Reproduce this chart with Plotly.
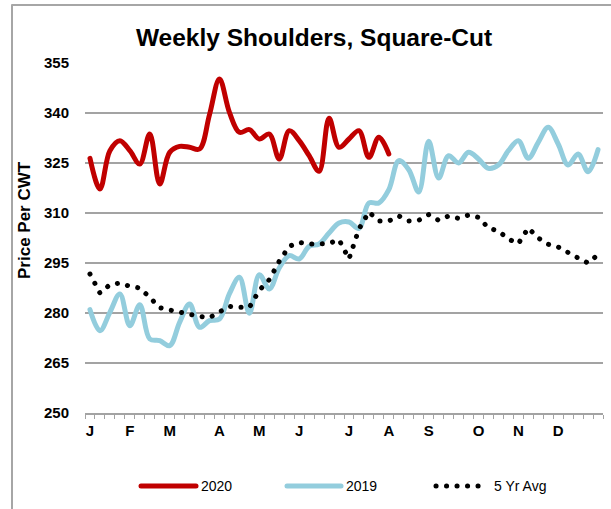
import plotly.graph_objects as go

# ---------------- data ----------------
weeks = list(range(52))
month_weeks = [0, 4, 8, 13, 17, 21, 26, 30, 34, 39, 43, 47]
month_labels = ["J", "F", "M", "A", "M", "J", "J", "A", "S", "O", "N", "D"]

y2020 = [326.4, 317.2, 328.7, 331.7, 328.7, 324.7, 333.7, 318.7, 328.2, 330.0,
         329.7, 329.2, 339.5, 350.2, 340.2, 334.2, 335.0, 332.2, 333.7, 326.2,
         334.7, 331.7, 327.2, 322.5, 338.4, 329.7, 332.2, 334.7, 326.7, 332.7,
         327.7]

y2019 = [281.0, 274.7, 280.2, 285.7, 276.2, 282.5, 272.2, 271.7, 270.2, 277.2,
         282.7, 275.7, 277.7, 278.2, 285.8, 290.7, 279.9, 291.5, 287.2, 293.5,
         297.2, 296.2, 300.0, 300.7, 304.0, 307.0, 307.3, 305.4, 313.0, 313.0,
         317.0, 325.7, 323.0, 316.3, 331.5, 320.5, 327.2, 325.0, 328.2, 326.2,
         323.4, 324.4, 328.7, 331.7, 326.4, 331.2, 335.7, 330.7, 324.4, 327.7,
         322.4, 329.0]

avg5 = [291.7, 286.0, 288.5, 289.0, 288.0, 287.5, 284.7, 281.6, 280.9, 280.2,
        279.4, 279.0, 278.6, 280.3, 282.0, 281.7, 281.7, 286.8, 290.0, 295.5,
        300.0, 301.2, 300.7, 300.7, 300.9, 302.0, 296.2, 305.2, 310.3, 307.6,
        307.6, 309.1, 307.6, 307.8, 309.5, 307.8, 309.1, 308.4, 309.4, 308.7,
        305.5, 304.6, 302.2, 300.8, 305.5, 302.5, 300.6, 299.8, 298.0, 296.5,
        295.0, 297.5]

series_names = ["2020", "2019", "5 Yr Avg"]
RED = "#C00000"
BLUE = "#93CDDD"
GRID = "#a3a3a3"

# ---------------- layout geometry (pixels) ----------------
W, H = 611, 509
L, R, T, B = 85, 8, 63, 96
PW, PH = W - L - R, H - T - B


def px_x(px):
    return (px - L) / PW


def px_y(py):
    return (H - B - py) / PH


fig = go.Figure()
fig.add_trace(go.Scatter(x=weeks[:len(y2020)], y=y2020, mode="lines", name=series_names[0],
                         line=dict(color=RED, width=5, shape="spline", smoothing=1.0),
                         showlegend=False))
fig.add_trace(go.Scatter(x=weeks, y=y2019, mode="lines", name=series_names[1],
                         line=dict(color=BLUE, width=5, shape="spline", smoothing=1.0),
                         showlegend=False))
fig.add_trace(go.Scatter(x=weeks, y=avg5, mode="lines", name=series_names[2],
                         line=dict(color="black", width=5, dash="0.1px,10.4px"),
                         showlegend=False))

fig.update_layout(
    width=W, height=H,
    margin=dict(l=L, r=R, t=T, b=B),
    paper_bgcolor="white", plot_bgcolor="white",
    font=dict(family="Liberation Sans, Arial, sans-serif", color="black"),
    title=dict(text="<b>Weekly Shoulders, Square-Cut</b>", x=314 / W, xanchor="center",
               y=1 - 37 / H, yanchor="middle",
               font=dict(size=24.5, family="Liberation Sans, Arial, sans-serif", color="black")),
    xaxis=dict(range=[-0.5, 51.5], tickmode="array", tickvals=month_weeks, ticktext=month_labels,
               ticks="", showgrid=False, zeroline=False,
               showline=True, linecolor=GRID, linewidth=1.7,
               tickfont=dict(size=15, weight="bold", color="black"),
               ticklabelstandoff=3,
               minor=dict(tickmode="linear", tick0=-0.5, dtick=1, ticks="outside",
                          ticklen=4, tickwidth=1, tickcolor=GRID, showgrid=False)),
    yaxis=dict(range=[250, 355], tickmode="linear", tick0=250, dtick=15,
               showgrid=True, gridcolor=GRID, gridwidth=1.7, zeroline=False,
               showline=False, ticks="",
               tickfont=dict(size=15, weight="bold", color="black"),
               ticklabelstandoff=15),
)

# y-axis title
fig.add_annotation(text="<b>Price Per CWT</b>", textangle=-90, xref="paper", yref="paper",
                   x=px_x(24), y=px_y(220), showarrow=False, xanchor="center", yanchor="middle",
                   font=dict(size=17, color="black"))

# outer chart border (top and left visible)
fig.add_shape(type="rect", xref="paper", yref="paper",
              x0=px_x(12), x1=px_x(650), y0=px_y(560), y1=px_y(5),
              line=dict(color="#a6a6a6", width=2), fillcolor="rgba(0,0,0,0)", layer="below")

# legend (drawn manually to match the long sample lines)
leg_y = px_y(486)
legend_items = [
    (series_names[0], dict(color=RED, width=5), 141, 196, 199),
    (series_names[1], dict(color=BLUE, width=5), 287, 341, 344),
    (series_names[2], dict(color="black", width=5, dash="0.1px,10.4px"), 436, 479, 492),
]
for name, ln, x0, x1, tx in legend_items:
    fig.add_shape(type="line", xref="paper", yref="paper", x0=px_x(x0), x1=px_x(x1),
                  y0=leg_y, y1=leg_y, line=ln)
    fig.add_annotation(text=name, xref="paper", yref="paper", x=px_x(tx), y=leg_y,
                       showarrow=False, xanchor="left", yanchor="middle",
                       font=dict(size=14, color="black"))

post = ("document.body.style.margin='0';"
        "var s=document.createElement('style');"
        "s.innerHTML='body{margin:0;} .js-line, .shapelayer path {stroke-linecap:round; stroke-linejoin:round;}';"
        "document.head.appendChild(s);")

fig.write_html("out.html", post_script=post, config={"displayModeBar": False})
